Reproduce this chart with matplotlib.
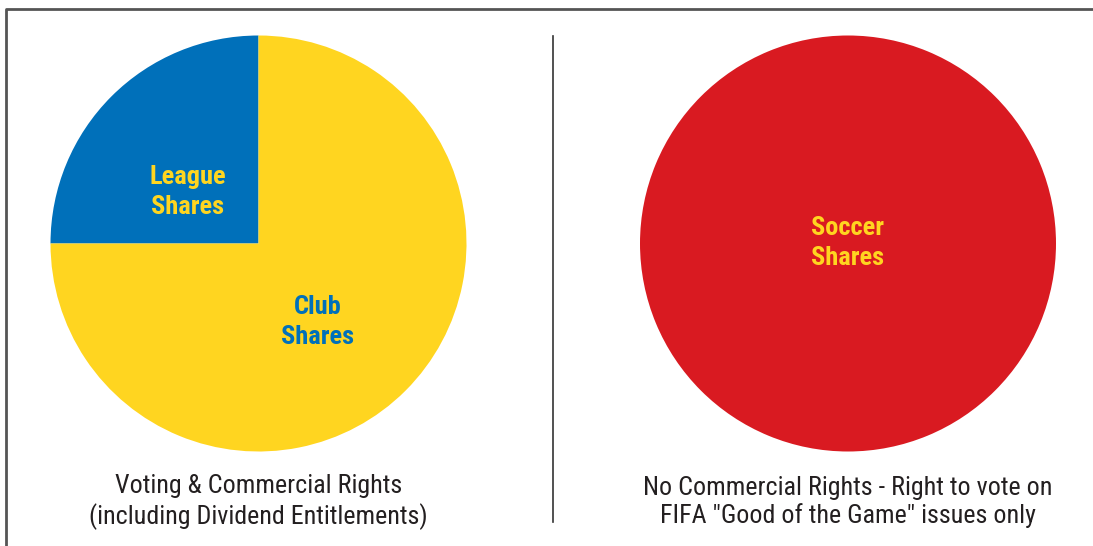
import matplotlib
matplotlib.use('Agg')
import matplotlib.pyplot as plt
from matplotlib import font_manager

# 数据
left_labels = ['League\nShares', 'Club\nShares']
left_values = [25, 75]
left_colors = ['#0070BA', '#FFD520']
right_labels = ['Soccer\nShares']
right_values = [100]
right_colors = ['#D91A21']
captions = ['Voting & Commercial Rights\n(including Dividend Entitlements)',
            'No Commercial Rights - Right to vote on\nFIFA "Good of the Game" issues only']

# 找一个窄体字体
fonts = font_manager.fontManager.ttflist
names = {f.name for f in fonts}
FONT, STRETCH, NARROW = 'DejaVu Sans', 'normal', False
for cand in ['Liberation Sans Narrow', 'Roboto Condensed', 'Open Sans Condensed',
             'Noto Sans Condensed', 'Arial Narrow']:
    if cand in names:
        FONT, NARROW = cand, True
        break
else:
    for f in fonts:
        if f.stretch in ('condensed', 'semi-condensed', 'extra-condensed') or \
                'condensed' in f.fname.lower():
            FONT, STRETCH, NARROW = f.name, 'condensed', True
            break
print(FONT, STRETCH)

W, H = 1093, 546
fig = plt.figure(figsize=(W / 100, H / 100), dpi=100)
ax = fig.add_axes([0, 0, 1, 1])

R = 208
cy = H - 243.5

ax.pie(left_values, colors=left_colors, startangle=90, counterclock=True,
       center=(258.5, cy), radius=R, frame=True,
       wedgeprops=dict(linewidth=0))
ax.pie(right_values, colors=right_colors, startangle=90,
       center=(848, cy), radius=R, frame=True,
       wedgeprops=dict(linewidth=0))
ax.set_xlim(0, W)
ax.set_ylim(0, H)
ax.set_aspect('equal')
ax.axis('off')

lab_size = 19 if NARROW else 16
cap_size = 18.7 if NARROW else 15.5
lab_kw = dict(ha='center', va='center', fontsize=lab_size, fontweight='bold',
              family=FONT, stretch=STRETCH, linespacing=1.3)
ax.text(188, H - 192, left_labels[0], color='#FFD520', **lab_kw)
ax.text(318, H - 322, left_labels[1], color='#0070BA', **lab_kw)
ax.text(848, H - 243, right_labels[0], color='#FFD520', **lab_kw)

cap_kw = dict(ha='center', va='center', fontsize=cap_size, family=FONT,
              stretch=STRETCH, color='#231F20', linespacing=1.2)
ax.text(258.5, H - 502, captions[0], **cap_kw)
ax.text(848, H - 502, captions[1], **cap_kw)

# 边框和分隔线
ax.plot([6, 6, W], [0, H - 9, H - 9], color='#555555', lw=2, solid_capstyle='butt')
ax.plot([553, 553], [H - 36, H - 522], color='#333333', lw=1.2)

fig.savefig('out.png', dpi=100, facecolor='white')
